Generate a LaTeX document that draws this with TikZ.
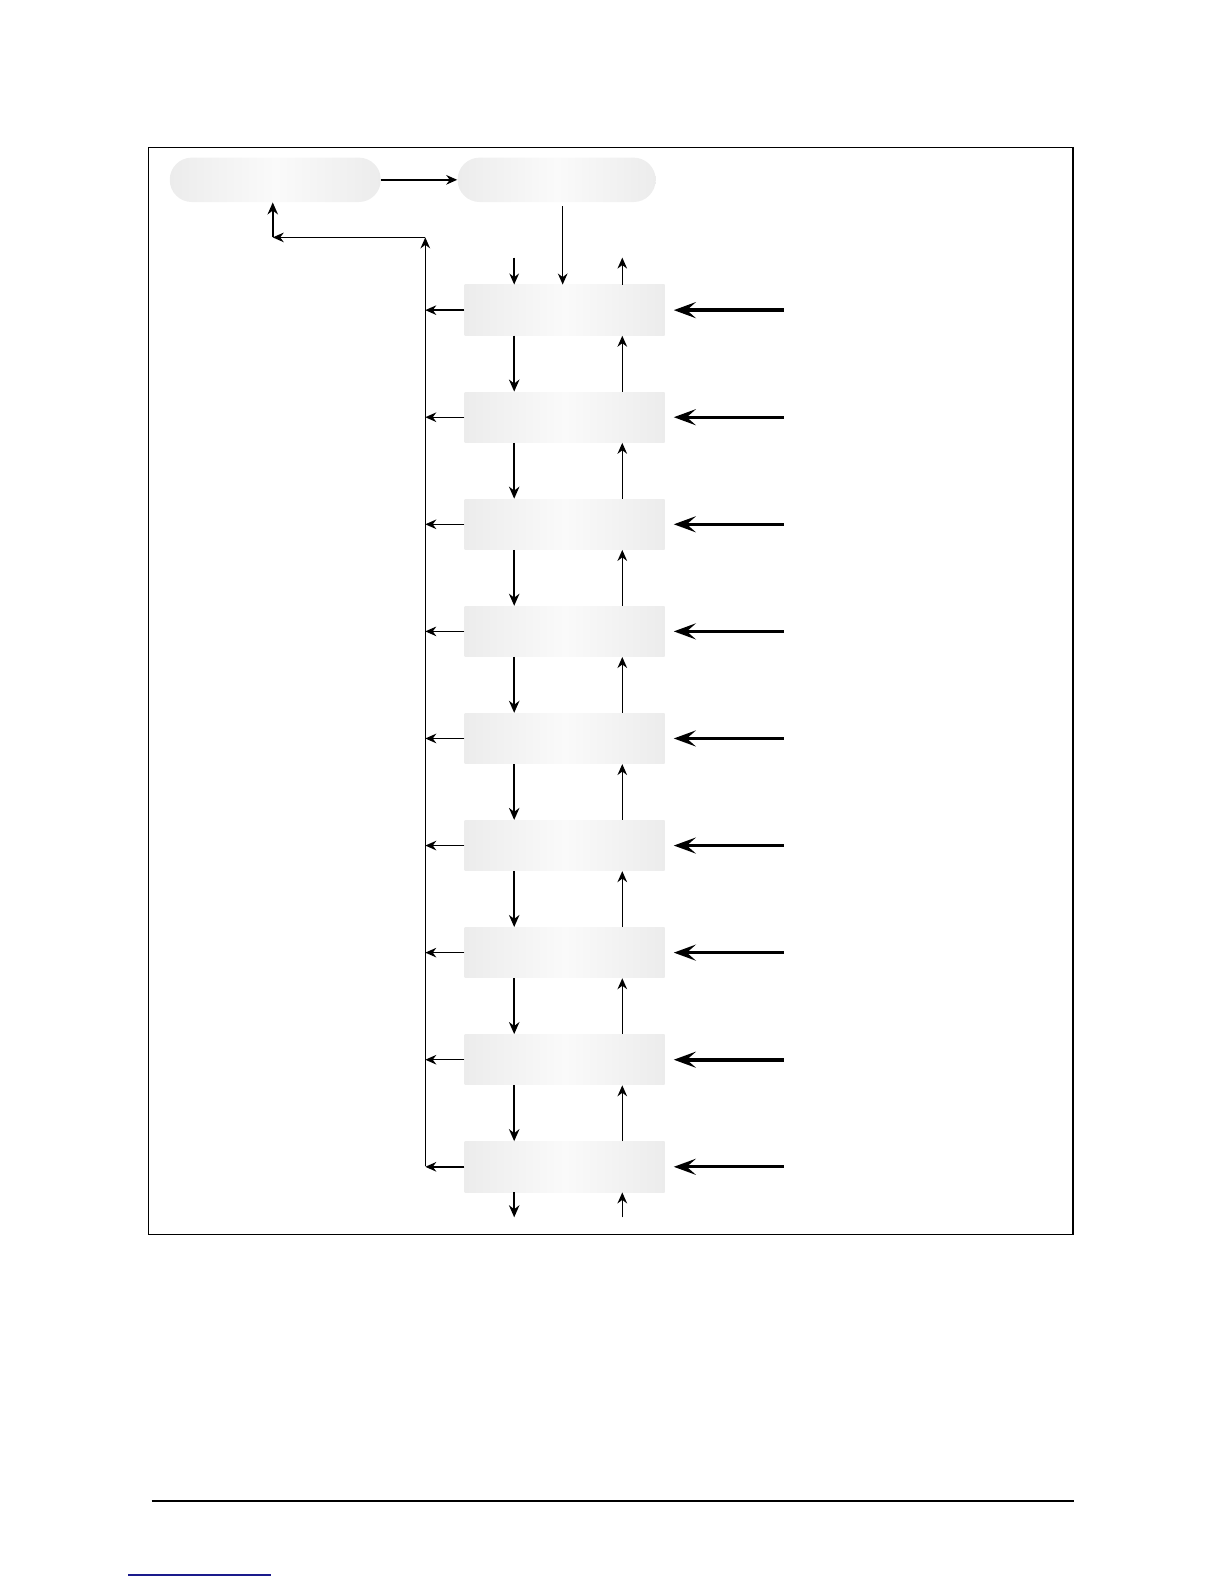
\documentclass[tikz,border=0pt]{standalone}
\usetikzlibrary{arrows.meta}
\definecolor{boxedge}{HTML}{ECECEC}
\definecolor{boxmid}{HTML}{FAFAFA}
\definecolor{navyline}{HTML}{1A1A8C}
\begin{document}
\begin{tikzpicture}[x=0.505pt,y=-0.505pt,
  stagebox/.style={draw=none,inner sep=0pt,minimum width=100pt,minimum height=25.2pt,
     left color=boxedge,right color=boxedge,middle color=boxmid},
  topbox/.style={draw=none,inner sep=0pt,minimum height=22.2pt,rounded corners=11pt,
     left color=boxedge,right color=boxedge,middle color=boxmid},
  thinarr/.style={line width=0.7pt,-{Stealth[length=5.5pt,width=4.8pt]}},
  thickarr/.style={line width=1.2pt,-{Stealth[length=6pt,width=5.2pt]}},
  inarr/.style={line width=1.5pt,-{Stealth[open,length=11pt,width=8pt,inset=4.5pt]}},
  frame/.style={line width=0.8pt}
]
\useasboundingbox (0,0) rectangle (1212,1568);
% frame
\draw[frame] (147,146) rectangle (1062,1222);
% top boxes
\node[topbox,minimum width=105.5pt] (b1) at (272.5,178) {};
\node[topbox,minimum width=99pt] (b2) at (551,178) {};
\draw[thinarr] (b1.east) -- (b2.west);
% stage boxes
\foreach \k in {1,...,9}{
  \node[stagebox] (s\k) at (559,{307+106*(\k-1)}) {};
}
% top of b2 to s1
\coordinate (b2d) at (557,204);
\draw[thinarr] (b2d) -- (s1.north -| b2d);
% small arrows above s1
\coordinate (tinL) at (509,255);
\coordinate (toutR) at (616,255);
\draw[thinarr] (tinL) -- (s1.north -| tinL);
\draw[thinarr] (s1.north -| toutR) -- (toutR);
% arrows between stages
\foreach \k [evaluate=\k as \n using int(\k+1)] in {1,...,8}{
  \draw[thickarr] (s\k.south -| tinL) -- (s\n.north -| tinL);
  \draw[thinarr] (s\n.north -| toutR) -- (s\k.south -| toutR);
}
% bottom arrows
\coordinate (boutL) at (509,1205);
\coordinate (binR) at (616,1205);
\draw[thickarr] (s9.south -| boutL) -- (boutL);
\draw[thinarr] (binR) -- (s9.south -| binR);
% left bus
\coordinate (busTop) at (421,235);
\coordinate (busBot) at (421,1154);
\coordinate (fbCorner) at (270,235);
\foreach \k in {1,...,9}{
  \draw[thinarr] (s\k.west) -- (s\k.west -| busTop);
}
\draw[thinarr] (busBot) -- (busTop);
\draw[thinarr] (busTop) -- (fbCorner);
\draw[thickarr] (fbCorner) -- (b1.south -| fbCorner);
% right inputs
\foreach \k in {1,...,9}{
  \coordinate (r\k) at (776,{307+106*(\k-1)});
  \coordinate (t\k) at (667,{307+106*(\k-1)});
}
\draw[inarr,line width=2pt] (r1) -- (t1);
\foreach \k in {2,...,7}{
  \draw[inarr] (r\k) -- (t\k);
}
\draw[inarr,line width=1.8pt] (r8) -- (t8);
\draw[inarr] (r9) -- (t9);
% footer lines
\coordinate (fl) at (150,1486);
\coordinate (fr) at (1063,1486);
\draw[line width=0.8pt] (fl) -- (fr);
\coordinate (ul) at (127,1559);
\coordinate (ur) at (268,1559);
\draw[navyline,line width=0.6pt] (ul) -- (ur);
\end{tikzpicture}
\end{document}
